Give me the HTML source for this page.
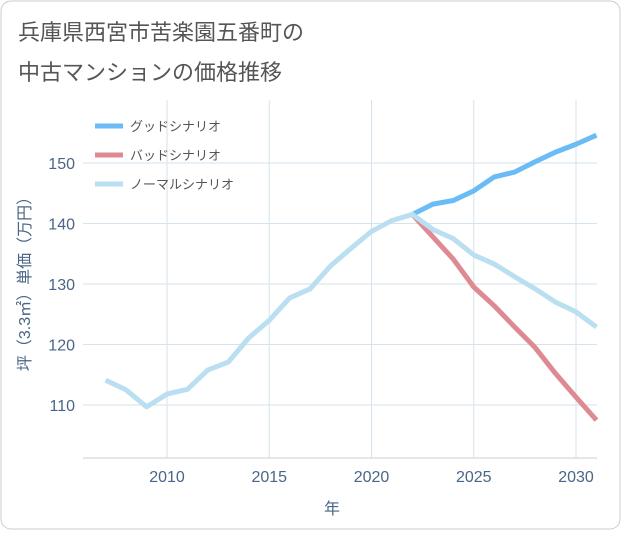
<!DOCTYPE html>
<html><head><meta charset="utf-8"><style>
body{margin:0;background:#fff;font-family:"Liberation Sans","Noto Sans CJK JP",sans-serif;}
#wrap{position:relative;width:621px;height:530px;}
</style></head><body><div id="wrap">
<svg id="chart" width="621" height="530" xmlns="http://www.w3.org/2000/svg">
<rect x="1" y="1" width="619" height="528" rx="10" fill="#fff" stroke="#ccc"/>
<text x="18" y="40" font-size="22" fill="#555">兵庫県西宮市苦楽園五番町の</text>
<text x="18" y="80" font-size="22" fill="#555">中古マンションの価格推移</text>
<g id="grid"></g><g id="axes"></g><g id="series"></g><g id="legend"></g>
<text transform="translate(30,280) rotate(-90)" text-anchor="middle" font-size="16" fill="#4a6585">坪（3.3㎡）単価（万円）</text>
<text x="332" y="514" text-anchor="middle" font-size="16" fill="#4a6585">年</text>
</svg></div>
<script>
const years=[2007,2008,2009,2010,2011,2012,2013,2014,2015,2016,2017,2018,2019,2020,2021,2022,2023,2024,2025,2026,2027,2028,2029,2030,2031];
const normal=[114.1,112.5,109.7,111.8,112.6,115.8,117.1,121.1,124.0,127.7,129.2,133.0,135.9,138.7,140.5,141.5,139.0,137.5,134.8,133.3,131.2,129.2,127.0,125.4,122.9];
const goodYears=[2022,2023,2024,2025,2026,2027,2028,2029,2030,2031];
const good=[141.5,143.2,143.8,145.4,147.7,148.5,150.2,151.8,153.1,154.6];
const bad=[141.5,137.8,134.1,129.5,126.4,122.9,119.5,115.2,111.3,107.5];
const xTicks=[2010,2015,2020,2025,2030];
const yTicks=[110,120,130,140,150];
const L=83,R=597,T=100,B=458;
const xs=y=>167+(y-2010)*20.45;
const ys=v=>163+(150-v)*6.05;
const NS="http://www.w3.org/2000/svg";
function mk(tag,attrs,parent){const e=document.createElementNS(NS,tag);for(const k in attrs)e.setAttribute(k,attrs[k]);document.getElementById(parent).appendChild(e);return e;}
xTicks.forEach(t=>{
 const l=mk('line',{x1:xs(t),x2:xs(t),y1:T,y2:B,stroke:'#d5e3ec'},'grid');
 
 
 const tx=mk('text',{x:xs(t),y:B+24,'text-anchor':'middle','font-size':16,fill:'#4a6585'},'axes');tx.textContent=t;
 
 
});
yTicks.forEach(t=>{
 const l=mk('line',{x1:L,x2:R,y1:ys(t),y2:ys(t),stroke:'#d5e3ec'},'grid');
 
 
 const tx=mk('text',{x:L-8,y:ys(t)+6,'text-anchor':'end','font-size':16,fill:'#4a6585'},'axes');tx.textContent=t;
 
 
});
const ax=mk('line',{x1:L,x2:R,y1:B,y2:B,stroke:'#ccc'},'axes');


function line(xv,yv,color,name){
 const p=mk('polyline',{points:xv.map((x,i)=>xs(x)+','+ys(yv[i])).join(' '),fill:'none',stroke:color,'stroke-width':5,'stroke-linejoin':'round'},'series');
 
 
}
line(goodYears,bad,'#de8a92','bad-scenario-line');
line(goodYears,good,'#6bbcf5','good-scenario-line');
line(years,normal,'#badff0','normal-scenario-line');
[['グッドシナリオ','#6bbcf5','legend-good'],['バッドシナリオ','#de8a92','legend-bad'],['ノーマルシナリオ','#badff0','legend-normal']].forEach((d,i)=>{
 const y=126+i*29;
 const l=mk('line',{x1:95,x2:123,y1:y,y2:y,stroke:d[1],'stroke-width':5},'legend');
 
 
 const t=mk('text',{x:130,y:y+5,'font-size':13,fill:'#555'},'legend');t.textContent=d[0];
 
 
});
</script></body></html>
